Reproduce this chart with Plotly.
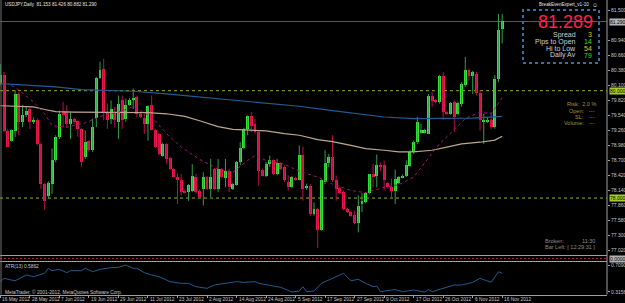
import plotly.graph_objects as go

W, H = 625, 303
def px(x): return x / W
def py(y): return 1 - y / H

# ---------------- data ----------------
header = "USDJPY,Daily  81.153 81.426 80.882 81.290"

opens = [
    80.13, 80.29, 79.24, 79.07, 79.25, 79.93, 79.42, 79.54, 79.65, 79.42,
    79.45, 79.01, 78.26, 78.03, 78.26, 78.70, 79.14, 79.60, 79.60, 79.38,
    79.47, 79.43, 79.29, 78.76, 79.06, 78.89, 79.49, 80.24, 80.41, 79.61,
    79.48, 79.60, 79.42, 79.82, 79.48, 79.74, 79.82, 79.88, 79.57, 79.50,
    79.38, 79.73, 79.27, 79.20, 78.79, 79.01, 78.75, 78.54, 78.40, 78.34,
    78.14, 78.11, 78.14, 78.40, 78.14, 78.17, 78.39, 78.17, 78.54, 78.17,
    78.54, 78.38, 78.51, 78.17, 78.25, 78.67, 78.93, 79.29, 79.52, 79.38,
    79.23, 78.53, 78.42, 78.64, 78.70, 78.45, 78.65, 78.58, 78.30, 78.20,
    78.38, 78.34, 78.81, 78.19, 78.23, 77.70, 77.80, 77.41, 78.30, 78.65,
    78.76, 78.33, 78.19, 78.11, 77.80, 77.74, 77.69, 77.53, 77.89, 77.92,
    78.09, 78.44, 78.42, 78.62, 78.61, 78.28, 78.20, 78.14, 78.28, 78.39,
    78.42, 78.59, 78.86, 79.04, 79.21, 79.23, 79.20, 79.91, 79.82, 79.79,
    80.27, 79.60, 79.57, 79.79, 79.56, 79.75, 80.10, 80.39, 80.27, 80.32,
    79.96, 79.42, 79.43, 79.45, 79.32, 80.22, 81.153]
highs = [
    80.50, 80.35, 79.29, 79.28, 80.01, 79.98, 79.73, 79.70, 79.70, 79.50,
    79.48, 79.04, 78.28, 78.31, 78.92, 79.17, 79.63, 79.79, 79.73, 79.60,
    79.50, 79.45, 79.31, 79.26, 79.08, 79.48, 80.26, 80.54, 80.60, 79.76,
    79.82, 79.70, 79.91, 79.91, 79.85, 79.86, 80.04, 79.91, 79.59, 79.57,
    79.73, 79.91, 79.29, 79.22, 79.03, 79.02, 78.77, 78.56, 78.45, 78.45,
    78.16, 78.26, 78.63, 78.45, 78.16, 78.48, 78.41, 78.73, 78.56, 78.73,
    78.56, 78.73, 78.54, 78.28, 78.69, 79.04, 79.31, 79.54, 79.60, 79.48,
    79.25, 78.55, 78.67, 78.79, 78.72, 78.73, 78.67, 78.61, 78.42, 78.41,
    78.40, 78.98, 78.96, 78.27, 78.26, 77.92, 77.82, 78.35, 78.89, 78.82,
    79.17, 78.42, 78.21, 78.14, 77.82, 77.76, 77.77, 78.05, 78.09, 78.11,
    78.45, 78.64, 78.81, 78.66, 78.70, 78.30, 78.36, 78.53, 78.41, 78.44,
    78.70, 78.89, 79.07, 79.51, 79.38, 79.29, 79.94, 79.98, 79.85, 80.29,
    80.35, 79.62, 79.79, 79.82, 79.80, 80.16, 80.63, 80.41, 80.37, 80.35,
    80.01, 79.57, 79.50, 79.60, 80.29, 81.43, 81.426]
lows = [
    80.10, 79.23, 78.95, 79.05, 79.14, 79.17, 79.32, 79.51, 79.29, 79.38,
    78.98, 78.17, 77.78, 77.99, 78.08, 78.67, 79.10, 79.32, 79.32, 79.10,
    79.38, 79.14, 78.58, 78.73, 78.86, 78.86, 79.32, 80.22, 79.45, 79.29,
    79.38, 79.32, 79.10, 79.29, 79.42, 79.72, 79.66, 79.51, 79.49, 79.20,
    79.07, 79.26, 78.93, 78.80, 78.77, 78.64, 78.52, 78.38, 77.89, 78.05,
    78.09, 77.95, 78.11, 78.08, 78.00, 77.86, 78.15, 78.02, 78.15, 78.11,
    78.37, 78.20, 78.11, 78.15, 78.23, 78.61, 78.91, 79.17, 79.23, 79.20,
    78.23, 78.40, 78.39, 78.58, 78.43, 78.42, 78.52, 78.30, 78.14, 78.18,
    78.32, 78.33, 77.95, 78.15, 77.67, 77.67, 77.07, 77.39, 78.26, 78.58,
    78.30, 77.95, 78.08, 77.77, 77.72, 77.65, 77.51, 77.36, 77.74, 77.90,
    78.08, 78.20, 78.20, 78.50, 78.14, 78.18, 78.02, 77.89, 78.26, 78.37,
    78.39, 78.58, 78.82, 79.01, 79.20, 79.20, 79.19, 79.70, 79.76, 79.76,
    79.45, 79.55, 79.55, 79.23, 79.54, 79.70, 80.07, 80.19, 79.94, 79.91,
    79.26, 79.01, 79.40, 79.29, 79.29, 80.16, 80.882]
closes = [
    80.29, 79.25, 78.96, 79.26, 79.93, 79.42, 79.54, 79.63, 79.42, 79.46,
    79.01, 78.26, 77.95, 78.28, 78.70, 79.14, 79.57, 79.54, 79.38, 79.48,
    79.42, 79.29, 78.67, 79.04, 78.89, 79.32, 80.24, 80.39, 79.60, 79.45,
    79.66, 79.45, 79.76, 79.45, 79.74, 79.83, 79.87, 79.57, 79.51, 79.38,
    79.71, 79.27, 78.95, 78.82, 79.01, 78.73, 78.54, 78.40, 78.33, 78.11,
    78.11, 78.25, 78.42, 78.11, 78.02, 78.39, 78.17, 78.40, 78.17, 78.54,
    78.39, 78.51, 78.20, 78.26, 78.67, 78.94, 79.29, 79.52, 79.35, 79.23,
    78.51, 78.42, 78.63, 78.70, 78.45, 78.65, 78.54, 78.34, 78.20, 78.39,
    78.34, 78.81, 78.17, 78.23, 77.70, 77.80, 77.41, 78.33, 78.65, 78.76,
    78.33, 78.17, 78.10, 77.80, 77.74, 77.67, 77.53, 77.86, 77.95, 78.09,
    78.44, 78.41, 78.61, 78.58, 78.33, 78.20, 78.14, 78.36, 78.39, 78.42,
    78.61, 78.86, 79.05, 79.42, 79.27, 79.26, 79.91, 79.81, 79.79, 80.27,
    79.60, 79.57, 79.77, 79.51, 79.77, 80.12, 80.39, 80.27, 80.35, 79.96,
    79.45, 79.45, 79.45, 79.32, 80.22, 81.14, 81.290]

blue_idx = [0, 8, 15, 22, 36, 45, 54, 63, 72, 81, 90, 99, 104, 112, 120, 128, 136]
blue_val = [80.13, 80.10, 80.07, 80.02, 79.99, 79.94, 79.88, 79.82, 79.76, 79.71,
            79.63, 79.56, 79.51, 79.48, 79.48, 79.49, 79.52]

tan_idx = [0, 9, 12, 15, 20, 30, 40, 45, 50, 54, 59, 63, 68, 72, 77, 81, 86, 90,
           95, 99, 104, 108, 112, 117, 121, 125, 130, 134, 136]
tan_val = [79.72, 79.70, 79.65, 79.61, 79.60, 79.60, 79.59, 79.57, 79.52, 79.44,
           79.33, 79.28, 79.26, 79.25, 79.20, 79.17, 79.09, 79.05, 78.98, 78.92,
           78.89, 78.86, 78.86, 78.89, 78.95, 79.01, 79.04, 79.08, 79.15]

mag_idx = [3, 5, 9, 12, 14, 18, 23, 27, 32, 36, 41, 45, 49, 54, 59, 63, 67, 69, 72,
           77, 81, 86, 90, 95, 99, 104, 108, 112, 119, 126, 130, 133, 136]
mag_val = [80.10, 80.01, 79.79, 79.57, 79.35, 79.32, 79.40, 79.52, 79.60, 79.70,
           79.51, 79.20, 78.95, 78.72, 78.54, 78.48, 78.70, 78.79, 78.70, 78.63,
           78.50, 78.39, 78.26, 78.14, 78.10, 78.20, 78.25, 78.39, 79.01, 79.48,
           79.60, 79.57, 79.87]

atr_idx = [0, 1, 3, 4, 7, 9, 12, 13, 14, 16, 18, 19, 22, 23, 25, 27, 30, 32, 34, 36,
           37, 39, 41, 43, 46, 49, 51, 53, 56, 58, 61, 64, 66, 69, 70, 73, 76, 79,
           81, 82, 83, 85, 87, 89, 92, 93, 95, 97, 99, 101, 102, 103, 106, 107, 109,
           112, 115, 116, 117, 120, 123, 125, 128, 130, 133, 135, 136]
atr_val = [0.466, 0.515, 0.490, 0.480, 0.563, 0.539, 0.588, 0.661, 0.626, 0.646,
           0.597, 0.626, 0.626, 0.661, 0.611, 0.646, 0.670, 0.675, 0.709, 0.661,
           0.661, 0.597, 0.563, 0.539, 0.466, 0.442, 0.440, 0.393, 0.369, 0.417,
           0.442, 0.466, 0.456, 0.466, 0.442, 0.417, 0.383, 0.3156, 0.330, 0.393,
           0.320, 0.330, 0.442, 0.490, 0.563, 0.588, 0.480, 0.500, 0.442, 0.393,
           0.400, 0.320, 0.344, 0.350, 0.320, 0.344, 0.3156, 0.350, 0.320, 0.370,
           0.417, 0.417, 0.456, 0.515, 0.456, 0.611, 0.5862]
atr_label = "ATR(13) 0.5862"

date_idx = [0, 8, 16, 24, 32, 40, 48, 56, 64, 72, 80, 88, 96, 104, 112, 120, 128, 136]
date_text = ["16 May 2012", "28 May 2012", "7 Jun 2012", "19 Jun 2012", "29 Jun 2012",
             "11 Jul 2012", "23 Jul 2012", "2 Aug 2012", "14 Aug 2012", "24 Aug 2012",
             "5 Sep 2012", "17 Sep 2012", "27 Sep 2012", "9 Oct 2012", "17 Oct 2012",
             "26 Oct 2012", "6 Nov 2012", "16 Nov 2012"]

price_ticks = [77.020, 77.300, 77.580, 77.860, 78.140, 78.420, 78.700, 78.980, 79.260,
               79.540, 79.820, 80.100, 80.380, 80.660, 80.940, 81.500]
price_tick_text = ["77.020", "77.300", "77.580", "77.860", "78.140", "78.420", "78.700",
                   "78.980", "79.260", "79.540", "79.820", "80.100", "80.380", "80.660",
                   "80.940", "81.500"]
atr_ticks = [0.3156, 0.7090]
atr_tick_text = ["0.3156", "0.7090"]

bid_price = 81.289
bid_label = "81.290"
level_hi = 80.000
level_lo = 78.000

panel_price = "81.289"
panel_rows = ["Spread", "Pips to Open", "Hi to Low", "Daily Av"]
panel_vals = ["3", "14", "54", "79"]
risk_rows = ["Open:", "SL:", "Volume:"]

# ---------------- styling ----------------
BG = "#000000"
BULL = "#33E633"
BEAR = "#F0144F"
BULL_W = "#2E9E4E"
BEAR_W = "#B8104A"
TXT = "#C8C8C8"
FONT = "Liberation Sans"

fig = go.Figure()

# wicks
for bull in (True, False):
    xs, ys = [], []
    for i, (o, h, l, c) in enumerate(zip(opens, highs, lows, closes)):
        if (c >= o) == bull:
            xs += [i, i, None]
            ys += [l, h, None]
    fig.add_trace(go.Scatter(x=xs, y=ys, mode="lines",
                             line=dict(color=BULL_W if bull else BEAR_W, width=1),
                             xaxis="x", yaxis="y", hoverinfo="skip"))

# bodies
for bull in (True, False):
    xs, base, hgt = [], [], []
    for i, (o, c) in enumerate(zip(opens, closes)):
        if (c >= o) == bull:
            xs.append(i)
            base.append(min(o, c))
            hgt.append(max(abs(c - o), 0.02))
    fig.add_trace(go.Bar(x=xs, y=hgt, base=base, width=0.8,
                         marker=dict(color=BULL if bull else BEAR, line=dict(width=0)),
                         xaxis="x", yaxis="y", hoverinfo="skip"))

# moving averages
fig.add_trace(go.Scatter(x=blue_idx, y=blue_val, mode="lines",
                         line=dict(color="#225C96", width=1.2), xaxis="x", yaxis="y"))
fig.add_trace(go.Scatter(x=tan_idx, y=tan_val, mode="lines",
                         line=dict(color="#BCA88A", width=1.2), xaxis="x", yaxis="y"))
fig.add_trace(go.Scatter(x=mag_idx, y=mag_val, mode="lines",
                         line=dict(color="#A8127A", width=1, dash="dot"), xaxis="x", yaxis="y"))

# ATR
fig.add_trace(go.Scatter(x=atr_idx, y=atr_val, mode="lines",
                         line=dict(color="#1F5A8F", width=1), xaxis="x", yaxis="y2"))

XR = 607  # right edge of plotting area (px)
shapes = []
# horizontal levels
shapes.append(dict(type="line", xref="paper", yref="y", x0=0, x1=px(XR), y0=bid_price, y1=bid_price,
                   line=dict(color="#5A5A5A", width=1), layer="below"))
for lv in (level_hi, level_lo):
    shapes.append(dict(type="line", xref="paper", yref="y", x0=0, x1=px(XR), y0=lv, y1=lv,
                       line=dict(color="#9AAE1E", width=1, dash="dot"), layer="below"))
# pane separators
for yy in (255.5, 261.5):
    shapes.append(dict(type="line", xref="paper", yref="paper", x0=0, x1=px(XR),
                       y0=py(yy), y1=py(yy), line=dict(color="#A0A0A0", width=1.2)))
shapes.append(dict(type="line", xref="paper", yref="paper", x0=0, x1=px(XR),
                   y0=py(258.5), y1=py(258.5), line=dict(color="#A02048", width=1, dash="2px,2px")))
# axis frame
shapes.append(dict(type="line", xref="paper", yref="paper", x0=px(XR), x1=px(XR),
                   y0=py(294.5), y1=1, line=dict(color="#A0A0A0", width=1)))
shapes.append(dict(type="line", xref="paper", yref="paper", x0=px(1), x1=px(1),
                   y0=py(294.5), y1=1, line=dict(color="#707070", width=1)))
# info box
shapes.append(dict(type="rect", xref="paper", yref="paper", x0=px(523), x1=px(599),
                   y0=py(63), y1=py(10), line=dict(color="#3A6EA8", width=2, dash="dot")))

ann = []
def text(x, y, s, size=5, color=TXT, anchor="left", bg=None, xref="paper"):
    d = dict(x=x if xref != "paper" else px(x), y=py(y), xref=xref, yref="paper", text=s,
             showarrow=False, xanchor=anchor, yanchor="middle",
             font=dict(family=FONT, size=size, color=color))
    if bg:
        d.update(bgcolor=bg, borderpad=0)
    ann.append(d)

text(3, 5, header, size=4.6, color="#E6E6E6")
text(591, 5, "BreakEvenExpert_v1-10", size=4.6, color="#E6E6E6", anchor="right")
text(594.5, 5, "\u263A", size=6, color="#E6E6E6", anchor="center")
text(565.5, 22.5, panel_price, size=18, color="#FF1F4F", anchor="center")
row_y = [34.5, 41.5, 48.5, 55.5]
val_col = ["#E8C020", "#33DD33", "#E8C020", "#33DD33"]
for r, v, yy, col in zip(panel_rows, panel_vals, row_y, val_col):
    text(578, yy, r, size=7, color="#D0D0D0", anchor="right")
    text(594, yy, v, size=7, color=col, anchor="right")

OLIVE = "#9C9C3C"
text(598, 104, "Risk:  2.0 %", size=5.5, color=OLIVE, anchor="right")
for r, yy in zip(risk_rows, [110.5, 116.5, 123]):
    text(586, yy, r, size=5.5, color=OLIVE, anchor="right")
    text(597, yy, "---", size=5.5, color=OLIVE, anchor="right")

text(566, 240.5, "Broken:", size=5.5, color="#8C8C8C", anchor="right")
text(597, 240.5, "11:30", size=5.5, color="#8C8C8C", anchor="right")
text(597, 247, "Bar Left: [ 12:29:31 ]", size=5.5, color="#8C8C8C", anchor="right")

text(3, 266.5, atr_label, size=4.8, color=TXT)
text(3, 291.5, "MetaTrader, \u00a9 2001-2012, MetaQuotes Software Corp.", size=4.8, color=TXT)

for di, dt in zip(date_idx, date_text):
    text(di, 299, dt, size=4.8, color=TXT, xref="x")

# highlighted axis labels
text(608.5, 21.5, bid_label, size=5, color="#000000", bg="#B4B4B4")
text(608.5, 90.7, f"{level_hi:.3f}", size=5, color="#000000", bg="#A8CC2E")
text(608.5, 198.0, f"{level_lo:.3f}", size=5, color="#000000", bg="#A8CC2E")
text(608.5, 258.5, "0.0000", size=5, color="#000000", bg="#B4B4B4")

fig.update_layout(
    width=W, height=H, margin=dict(l=0, r=0, t=0, b=0),
    paper_bgcolor=BG, plot_bgcolor=BG, showlegend=False, hovermode=False,
    barmode="overlay", bargap=0,
    xaxis=dict(domain=[0, px(XR)], range=[-0.1, 164.4], anchor="y2",
               showgrid=False, zeroline=False, showticklabels=False,
               tickvals=date_idx, ticks="outside", ticklen=2, tickcolor="#A0A0A0",
               showline=True, linecolor="#A0A0A0", linewidth=1),
    yaxis=dict(domain=[py(256), 1], range=[76.92, 81.69], side="right", anchor="x",
               showgrid=False, zeroline=False, tickvals=price_ticks, ticktext=price_tick_text,
               ticks="outside", ticklen=2, tickcolor="#A0A0A0",
               tickfont=dict(family=FONT, size=5, color=TXT), automargin=False),
    yaxis2=dict(domain=[py(294.5), py(264)], range=[0.279, 0.7236], side="right", anchor="x",
                showgrid=False, zeroline=False, tickvals=atr_ticks, ticktext=atr_tick_text,
                ticks="outside", ticklen=2, tickcolor="#A0A0A0",
                tickfont=dict(family=FONT, size=5, color=TXT), automargin=False),
    shapes=shapes, annotations=ann,
)

fig.write_html("out.html", config={"displayModeBar": False})
